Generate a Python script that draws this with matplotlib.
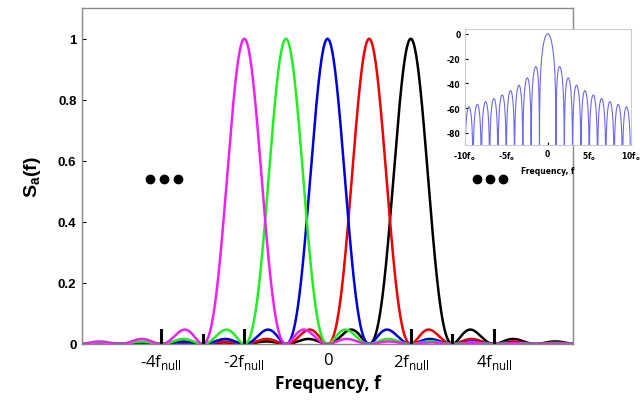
import numpy as np
import matplotlib.pyplot as plt

# pulse centres (units of f_null) and colours
centres = [-2, -1, 0, 1, 2]
colours = ['#ee22ee', '#22ee22', '#0000dd', '#ee0000', '#000000']
draw_order = [4, 3, 2, 1, 0]

# x tick labels (main plot)
xtick_pos = [-4, -2, 0, 2, 4]
xtick_lab = [r'-4f$_{\mathregular{null}}$', r'-2f$_{\mathregular{null}}$', '0',
             r'2f$_{\mathregular{null}}$', r'4f$_{\mathregular{null}}$']
marker_pos = [-4, -3, -2, 2, 3, 4]
marker_h = [0.045, 0.028, 0.045, 0.045, 0.028, 0.045]
ytick_pos = [0, 0.2, 0.4, 0.6, 0.8, 1]
ytick_lab = ['0', '0.2', '0.4', '0.6', '0.8', '1']
dots_left = [-4.27, -3.93, -3.59]
dots_right = [3.58, 3.9, 4.22]
dots_y = 0.54

# inset
inset_xticks = [-10, -5, 0, 5, 10]
inset_xlab = [r'-10f$_{\mathregular{o}}$', r'-5f$_{\mathregular{o}}$', '0',
              r'5f$_{\mathregular{o}}$', r'10f$_{\mathregular{o}}$']
inset_yticks = [0, -20, -40, -60, -80]

fig = plt.figure(figsize=(6.41, 4.14), dpi=100)
ax = fig.add_axes([0.128, 0.1667, 0.766, 0.811])

f = np.linspace(-5.9, 5.9, 3000)
for i in draw_order:
    ax.plot(f, np.sinc(f - centres[i]) ** 2, color=colours[i], lw=1.8)

for xp, h in zip(marker_pos, marker_h):
    ax.plot([xp, xp], [0, h], color='black', lw=2.2)

ax.plot(dots_left, [dots_y] * 3, 'o', color='black', ms=6)
ax.plot(dots_right, [dots_y] * 3, 'o', color='black', ms=6)

ax.set_xlim(-5.9, 5.9)
ax.set_ylim(0, 1.1)
ax.set_xticks(xtick_pos)
ax.set_xticklabels(xtick_lab, fontsize=12, family='Open Sans')
ax.tick_params(axis='x', length=0, pad=6)
ax.set_yticks(ytick_pos)
ax.set_yticklabels(ytick_lab, fontsize=9.5, fontweight='bold', family='Liberation Sans')
ax.tick_params(axis='y', direction='in', length=3, pad=4)
for s in ax.spines.values():
    s.set_color('#888888')
    s.set_linewidth(1.0)
ax.set_xlabel('Frequency, f', fontsize=12.5, fontweight='bold', family='Open Sans', labelpad=2)
ax.set_ylabel(r'S$_{\mathregular{a}}$(f)', fontsize=14, fontweight='bold',
              family='Liberation Sans', labelpad=11)

# inset: spectrum in dB
axi = fig.add_axes([0.725, 0.647, 0.259, 0.281])
fi = np.linspace(-10, 10, 4000)
db = 20 * np.log10(np.sinc(fi) ** 2 + 1e-12)
axi.plot(fi, db, color='#6a6aee', lw=0.8)
axi.set_xlim(-10, 10)
axi.set_ylim(-90, 4)
axi.set_xticks(inset_xticks)
axi.set_xticklabels(inset_xlab, fontsize=5.5, fontweight='bold')
axi.set_yticks(inset_yticks)
axi.set_yticklabels([str(v) for v in inset_yticks], fontsize=5.5, fontweight='bold')
axi.tick_params(direction='in', length=2, pad=3)
axi.set_xlabel('Frequency, f', fontsize=5.5, fontweight='bold', labelpad=3)
for s in axi.spines.values():
    s.set_color('#cccccc')
    s.set_linewidth(0.8)

fig.savefig('out.png', dpi=100)
